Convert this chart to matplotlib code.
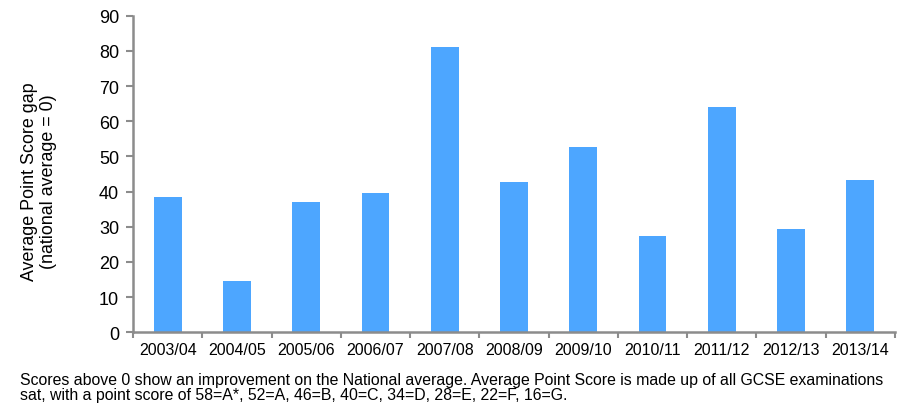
import matplotlib
matplotlib.use("Agg")
import matplotlib.pyplot as plt
import numpy as np

plt.rcParams['font.family'] = ['Liberation Sans', 'DejaVu Sans']

years = ["2003/04", "2004/05", "2005/06", "2006/07", "2007/08", "2008/09",
         "2009/10", "2010/11", "2011/12", "2012/13", "2013/14"]
gap = [38.5, 14.5, 37.0, 39.6, 81.2, 42.7, 52.7, 27.3, 64.1, 29.3, 43.3]
yticks = [0, 10, 20, 30, 40, 50, 60, 70, 80, 90]

bar_color = "#4DA6FF"
axis_color = "#8C8C8C"

fig = plt.figure(figsize=(8.99, 4.06), dpi=100)
ax = fig.add_axes([0.148, 0.179, 0.8475, 0.78])

x = np.arange(len(years))
ax.bar(x, gap, width=0.4, color=bar_color, zorder=2)

ax.set_xlim(-0.5, len(years) - 0.5)
ax.set_ylim(0, 90)
ax.set_yticks(yticks)
ax.set_yticklabels([str(v) for v in yticks], fontsize=13)

ax.set_xticks(x)
ax.set_xticklabels(years, fontsize=11.5)
ax.set_xticks(np.arange(len(years) + 1) - 0.5, minor=True)
ax.tick_params(axis='x', which='major', length=0, pad=7)
ax.tick_params(axis='x', which='minor', length=4, width=1.5, color=axis_color)
ax.tick_params(axis='y', length=5, width=1.5, color=axis_color, pad=5)

for side in ("top", "right"):
    ax.spines[side].set_visible(False)
for side in ("left", "bottom"):
    ax.spines[side].set_color(axis_color)
    ax.spines[side].set_linewidth(1.8)

fig.text(0.0434, 0.552, "Average Point Score gap\n(national average = 0)",
         rotation=90, ha='center', va='center', fontsize=12.9,
         multialignment='center', linespacing=1.15)

fig.text(0.022, 0.044,
         "Scores above 0 show an improvement on the National average. "
         "Average Point Score is made up of all GCSE examinations\n"
         "sat, with a point score of 58=A*, 52=A, 46=B, 40=C, 34=D, 28=E, 22=F, 16=G.",
         ha='left', va='center', fontsize=11.45, linespacing=1.05)

fig.savefig("out.png", dpi=100)
